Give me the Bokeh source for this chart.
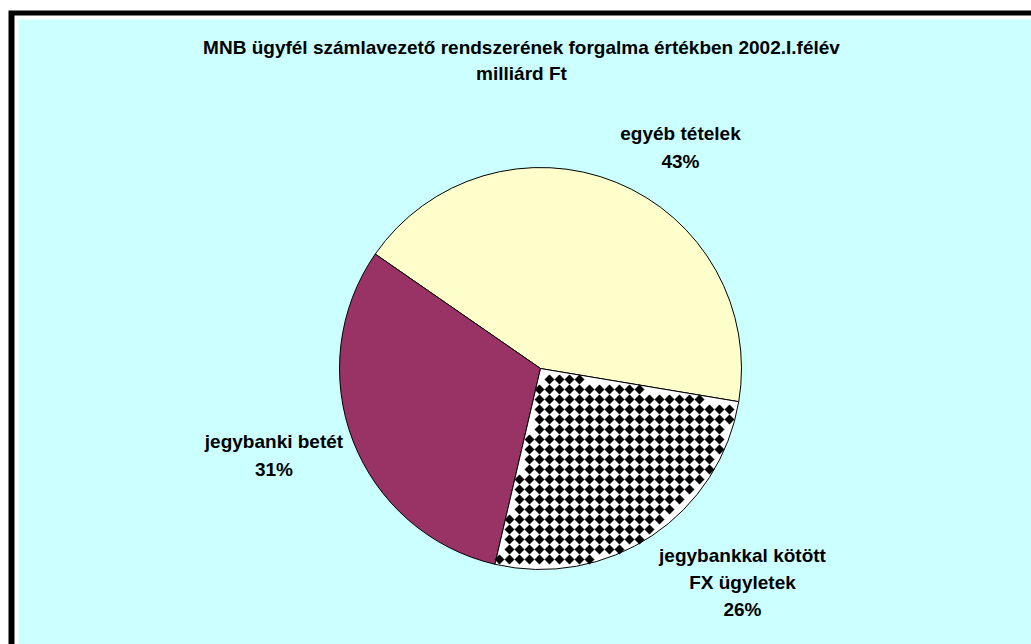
import numpy as np
from bokeh.plotting import figure
from bokeh.models import ColumnDataSource, Range1d
from bokeh.core.properties import value
from bokeh.embed import file_html
from bokeh.resources import INLINE

# ---- data ----
title_text = "MNB ügyfél számlavezető rendszerének forgalma értékben 2002.I.félév\nmilliárd Ft"
categories = ["egyéb tételek", "jegybanki betét", "jegybankkal kötött\nFX ügyletek"]
shares = [43, 31, 26]
slice_colors = ["#FFFFCC", "#993366", "#FFFFFF"]
slice_checker = [False, False, True]

# ---- layout (page pixel space, y up) ----
W, H = 1031, 644
CX, CY, R = 540, 276, 201
START_DEG = -9.5
label_x = [680, 273.5, 742]
label_y = [497, 189, 62]
CHECK_STEP = 10.0   # pattern cell size
CHECK_SIZE = 6.6    # square marker size (rotated 45 deg)

vals = np.array(shares, dtype=float)
frac = vals / vals.sum()
ends = START_DEG + np.cumsum(frac) * 360
starts = np.concatenate([[START_DEG], ends[:-1]])
pct = [f"{round(f*100):.0f}%" for f in frac]
labels = [f"{c}\n{p_}" for c, p_ in zip(categories, pct)]

src = ColumnDataSource(dict(start=starts, end=ends, color=slice_colors))
lsrc = ColumnDataSource(dict(x=label_x, y=label_y, text=labels))

# diamond pattern cells inside the patterned slice(s)
gx, gy = np.meshgrid(np.arange(CX - R, CX + R + 1, CHECK_STEP),
                     np.arange(CY - R, CY + R + 1, CHECK_STEP))
gx, gy = gx.ravel(), gy.ravel()
dx, dy = gx - CX, gy - CY
rr = np.hypot(dx, dy)
ang = np.degrees(np.arctan2(dy, dx))
px, py = [], []
for s, e, chk in zip(starts, ends, slice_checker):
    if not chk:
        continue
    a = (ang - s) % 360
    span = e - s
    inside = a <= span
    d1 = rr * np.sin(np.radians(np.clip(a, 0, 90)))
    d2 = rr * np.sin(np.radians(np.clip(span - a, 0, 90)))
    ok = inside & (rr <= R - 3.2) & (d1 >= 3.2) & (d2 >= 3.2)
    px.extend(gx[ok]); py.extend(gy[ok])

p = figure(width=W, height=H, x_range=Range1d(0, W), y_range=Range1d(0, H),
           x_axis_type=None, y_axis_type=None, output_backend="svg",
           toolbar_location=None, min_border=0)
p.outline_line_color = None
p.background_fill_color = "white"
p.border_fill_color = "white"

# chart area frame
p.quad(left=8, right=W + 20, bottom=-20, top=634, fill_color="black", line_color=None)
p.quad(left=14, right=W + 20, bottom=-20, top=629, fill_color="white", line_color=None)
p.quad(left=18, right=W + 20, bottom=-20, top=625, fill_color="#CCFFFF", line_color=None)

p.wedge(x=CX, y=CY, radius=R, start_angle="start", end_angle="end", start_angle_units="deg",
        end_angle_units="deg", fill_color="color", line_color="black", line_width=1, source=src)

p.scatter(x=px, y=py, marker="square", size=CHECK_SIZE, angle=45, angle_units="deg",
          fill_color="black", line_color="black", line_width=0.5)

p.text(x="x", y="y", text="text", source=lsrc, text_align="center", text_baseline="middle",
       text_font=value("Liberation Sans"), text_font_style="bold", text_font_size="19px",
       text_line_height=1.3, text_color="black")

p.text(x=[521], y=[584], text=[title_text], text_align="center", text_baseline="middle",
       text_font=value("Liberation Sans"), text_font_style="bold", text_font_size="19px",
       text_line_height=1.24, text_color="black")

open("out.html", "w").write(file_html(p, INLINE))
